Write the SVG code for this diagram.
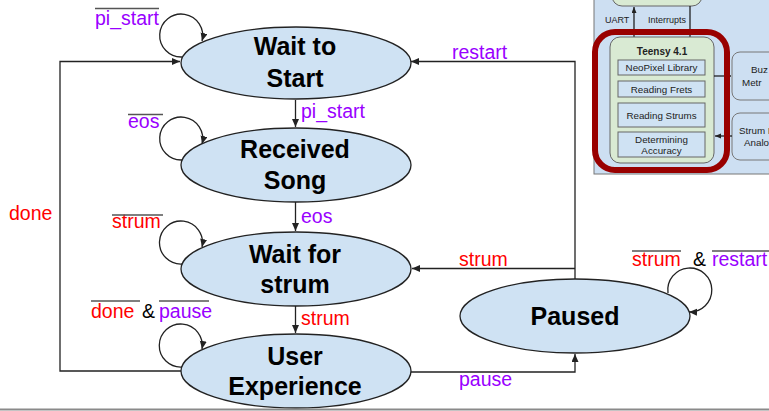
<svg xmlns="http://www.w3.org/2000/svg" width="769" height="411" viewBox="0 0 769 411">
  <defs>
    <marker id="arrow" markerUnits="userSpaceOnUse" markerWidth="9" markerHeight="8" refX="8" refY="3.5" orient="auto">
      <path d="M0,0 L8,3.5 L0,7 z" fill="#222"/>
    </marker>
    <marker id="arrowSmall" markerUnits="userSpaceOnUse" markerWidth="7" markerHeight="6" refX="6" refY="2.5" orient="auto">
      <path d="M0,0 L6,2.5 L0,5 z" fill="#222"/>
    </marker>
    <style>
      .state { fill: #cfe2f3; stroke: #222; stroke-width: 1.3; }
      .name { font-family: "Liberation Sans", Arial, sans-serif; font-weight: bold; font-size: 25px; fill: #000; text-anchor: middle; }
      .edge { fill: none; stroke: #222; stroke-width: 1.3; }
      .loop { fill: none; stroke: #222; stroke-width: 1.3; marker-end: url(#arrow); }
      .lbl { font-family: "Liberation Sans", Arial, sans-serif; font-size: 19.5px; }
      .purple { fill: #9900ff; }
      .red { fill: #ff0000; }
      .amp { fill: #000; }
      .bar { stroke: #555; stroke-width: 1.5; }
      .small { font-family: "Liberation Sans", Arial, sans-serif; font-size: 9.8px; fill: #222; }
      .box { fill: #cfe2f3; stroke: #666; stroke-width: 1; }
      .green { fill: #d9ead3; stroke: #666; stroke-width: 1; }
      .wire { stroke: #111; stroke-width: 1.2; fill: none; }
    </style>
  </defs>

  <!-- block diagram inset, upper right -->
  <g id="inset">
    <rect x="594" y="-10" width="200" height="184" fill="#cddff2" stroke="#777" stroke-width="1"/>
    <rect x="612" y="-30" width="90" height="36" rx="10" class="green"/>
    <line x1="634" y1="37" x2="634" y2="7" class="wire" marker-end="url(#arrowSmall)"/>
    <line x1="690" y1="6" x2="690" y2="37" class="wire"/>
    <text x="605" y="23" class="small" style="font-size:9px">UART</text>
    <text x="648" y="23" class="small" style="font-size:9px">Interrupts</text>

    <rect x="732" y="52" width="60" height="48" rx="8" fill="#cddff2" stroke="#777"/>
    <text x="751" y="73" class="small">Buz</text>
    <text x="742" y="86" class="small">Metr</text>
    <rect x="732" y="113" width="60" height="47" rx="8" fill="#cddff2" stroke="#777"/>
    <text x="739" y="134" class="small">Strum I</text>
    <text x="744" y="146" class="small">Analo</text>

    <rect x="610" y="37" width="104" height="126" rx="10" class="green"/>
    <text x="662" y="55" class="small" style="font-weight:bold;font-size:10px" text-anchor="middle">Teensy 4.1</text>
    <rect x="618" y="60" width="87" height="15" class="box"/>
    <text x="661.5" y="71" class="small" text-anchor="middle">NeoPixel Library</text>
    <rect x="618" y="81" width="87" height="16" class="box"/>
    <text x="661.5" y="93" class="small" text-anchor="middle">Reading Frets</text>
    <rect x="618" y="103" width="87" height="24" class="box"/>
    <text x="661.5" y="119" class="small" text-anchor="middle">Reading Strums</text>
    <rect x="618" y="132" width="87" height="25" class="box"/>
    <text x="661.5" y="143" class="small" text-anchor="middle">Determining</text>
    <text x="661.5" y="154" class="small" text-anchor="middle">Accuracy</text>

    <line x1="714" y1="76" x2="731" y2="76" class="wire" marker-end="url(#arrowSmall)"/>
    <line x1="732" y1="136" x2="715" y2="136" class="wire" marker-end="url(#arrowSmall)"/>

    <rect x="595" y="32" width="132" height="138" rx="20" fill="none" stroke="#990000" stroke-width="6"/>
  </g>

  <!-- transitions -->
  <g id="connectors">
    <path class="edge" d="M295.5,100 V127" marker-end="url(#arrow)"/>
    <path class="edge" d="M295.5,202 V231" marker-end="url(#arrow)"/>
    <path class="edge" d="M295.5,306 V333" marker-end="url(#arrow)"/>
    <path class="edge" d="M181,371 H60 V61.5 H180" marker-end="url(#arrow)"/>
    <path class="edge" d="M575,279 V61.5 H411" marker-end="url(#arrow)"/>
    <path class="edge" d="M575,268.5 H412" marker-end="url(#arrow)"/>
    <path class="edge" d="M411,372 H575 V354" marker-end="url(#arrow)"/>

    <path class="loop" d="M182,57 A21.5,21.5 0 1 1 202,41"/>
    <path class="loop" d="M182,160 A21.5,21.5 0 1 1 202,144"/>
    <path class="loop" d="M182,264 A21.5,21.5 0 1 1 202,247"/>
    <path class="loop" d="M182,367 A21.5,21.5 0 1 1 202,349"/>
    <path class="loop" d="M668,293 A22,22 0 1 1 689,312"/>

    <text x="301" y="118" class="lbl purple">pi_start</text>
    <text x="301" y="223" class="lbl purple">eos</text>
    <text x="301" y="325" class="lbl red">strum</text>
    <text x="9" y="220" class="lbl red">done</text>
    <text x="452" y="59" class="lbl purple">restart</text>
    <text x="459" y="266" class="lbl red">strum</text>
    <text x="459" y="386" class="lbl purple">pause</text>

    <text x="95" y="25" class="lbl purple">pi_start</text>
    <line x1="95" y1="8.5" x2="159" y2="8.5" class="bar"/>
    <text x="128" y="128" class="lbl purple">eos</text>
    <line x1="128" y1="114.5" x2="163" y2="114.5" class="bar"/>
    <text x="112" y="228" class="lbl red">strum</text>
    <line x1="112" y1="215" x2="163" y2="215" class="bar"/>
    <text x="91" y="318" class="lbl red">done</text>
    <line x1="91" y1="301" x2="140" y2="301" class="bar"/>
    <text x="142" y="318" class="lbl amp">&amp;</text>
    <text x="159" y="318" class="lbl purple">pause</text>
    <line x1="159" y1="301" x2="209" y2="301" class="bar"/>
    <text x="632" y="266" class="lbl red">strum</text>
    <line x1="632" y1="251" x2="681" y2="251" class="bar"/>
    <text x="693" y="266" class="lbl amp">&amp;</text>
    <text x="712" y="266" class="lbl purple">restart</text>
    <line x1="712" y1="251" x2="769" y2="251" class="bar"/>
  </g>

  <!-- states -->
  <g id="wait-to-start">
    <ellipse cx="296" cy="63" rx="115" ry="36" class="state"/>
    <text x="295" y="55" class="name">Wait to</text>
    <text x="295" y="87" class="name">Start</text>
  </g>
  <g id="received-song">
    <ellipse cx="296" cy="165" rx="115" ry="37" class="state"/>
    <text x="295" y="158" class="name">Received</text>
    <text x="295" y="189" class="name">Song</text>
  </g>
  <g id="wait-for-strum">
    <ellipse cx="296" cy="269" rx="115" ry="37" class="state"/>
    <text x="295" y="263" class="name">Wait for</text>
    <text x="295" y="293" class="name">strum</text>
  </g>
  <g id="user-experience">
    <ellipse cx="296" cy="371" rx="115" ry="37" class="state"/>
    <text x="295" y="365" class="name">User</text>
    <text x="295" y="395" class="name">Experience</text>
  </g>
  <g id="paused">
    <ellipse cx="575" cy="316" rx="115" ry="37" class="state"/>
    <text x="575" y="325" class="name">Paused</text>
  </g>

  <line x1="0" y1="409.5" x2="769" y2="409.5" stroke="#8a8a8a" stroke-width="2"/>
</svg>
